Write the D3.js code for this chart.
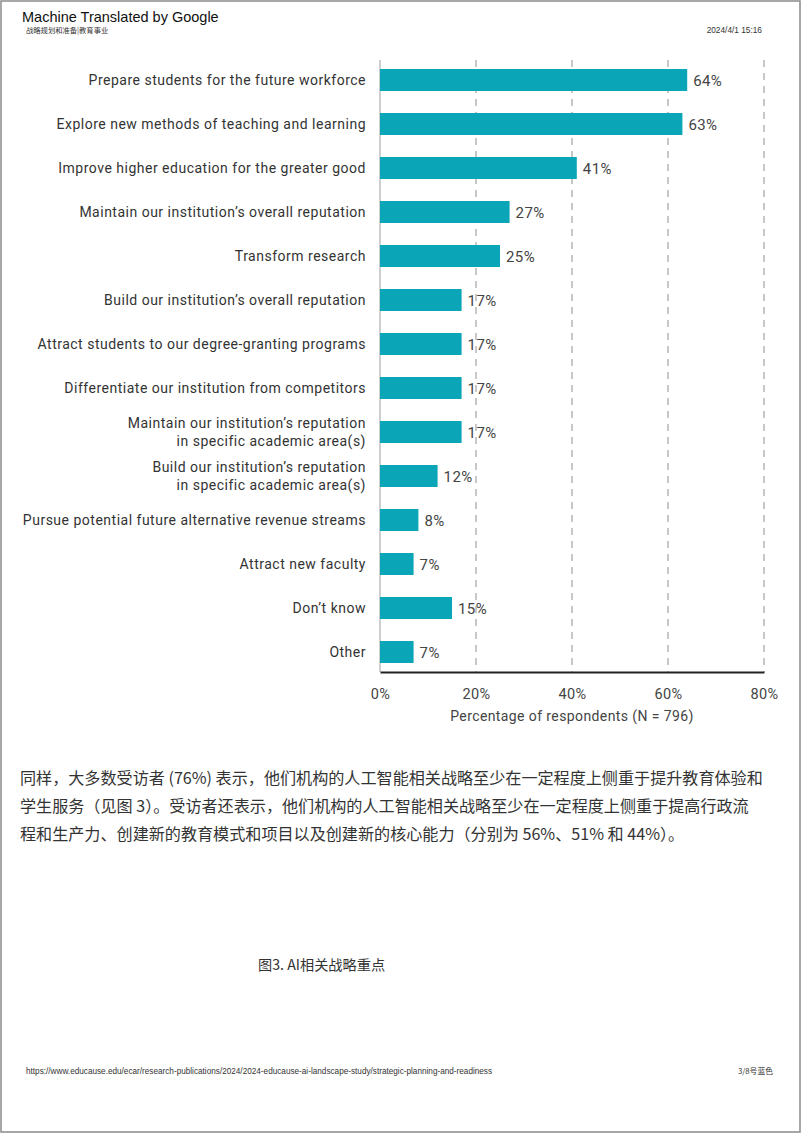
<!DOCTYPE html>
<html><head><meta charset="utf-8">
<script src="https://cdn.jsdelivr.net/npm/d3@7"></script>
<style>
html,body{margin:0;padding:0;background:#fff;}
</style></head>
<body>
<svg id="page" width="802" height="1134"></svg>
<script>
const categories = [
  ["Prepare students for the future workforce"],
  ["Explore new methods of teaching and learning"],
  ["Improve higher education for the greater good"],
  ["Maintain our institution’s overall reputation"],
  ["Transform research"],
  ["Build our institution’s overall reputation"],
  ["Attract students to our degree-granting programs"],
  ["Differentiate our institution from competitors"],
  ["Maintain our institution’s reputation", "in specific academic area(s)"],
  ["Build our institution’s reputation", "in specific academic area(s)"],
  ["Pursue potential future alternative revenue streams"],
  ["Attract new faculty"],
  ["Don’t know"],
  ["Other"]
];
const values = [64, 63, 41, 27, 25, 17, 17, 17, 17, 12, 8, 7, 15, 7];
const tickValues = [0, 20, 40, 60, 80];
const axisTitle = "Percentage of respondents (N = 796)";
const paragraph = [
  "同样，大多数受访者 (76%) 表示，他们机构的人工智能相关战略至少在一定程度上侧重于提升教育体验和",
  "学生服务（见图 3）。受访者还表示，他们机构的人工智能相关战略至少在一定程度上侧重于提高行政流",
  "程和生产力、创建新的教育模式和项目以及创建新的核心能力（分别为 56%、51% 和 44%）。"
];

const svg = d3.select("#page");
// page border
svg.append("rect").attr("x",1).attr("y",1).attr("width",799).attr("height",1131)
  .attr("fill","#fff").attr("stroke","#8a8a8a").attr("stroke-width",1.5);

// header
svg.append("text").attr("x",22).attr("y",22).attr("font-family","Liberation Sans, Arial")
  .attr("font-size",14.5).attr("fill","#111").text("Machine Translated by Google");
svg.append("text").attr("x",26).attr("y",33).attr("font-family","Noto Sans CJK SC")
  .attr("font-size",7.3).attr("fill","#333").text("战略规划和准备|教育事业");
svg.append("text").attr("x",762).attr("y",33).attr("text-anchor","end").attr("font-family","Liberation Sans, Arial")
  .attr("font-size",8.3).attr("fill","#333").text("2024/4/1 15:16");

// chart
const x = d3.scaleLinear().domain([0,80]).range([380,764]);
const y = d3.scaleBand().domain(d3.range(categories.length)).range([58,674]).paddingInner(0.5).paddingOuter(0.25);
const font = "Roboto, 'DejaVu Sans', sans-serif";
const g = svg.append("g");

// dashed grid
g.selectAll("line.grid").data(tickValues.filter(d=>d>0)).join("line")
  .attr("x1",d=>x(d)).attr("x2",d=>x(d)).attr("y1",60).attr("y2",672)
  .attr("stroke","#c8c8c8").attr("stroke-width",2).attr("stroke-dasharray","7,6");
// baseline at 0
g.append("line").attr("x1",x(0)).attr("x2",x(0)).attr("y1",60).attr("y2",672)
  .attr("stroke","#cfcfcf").attr("stroke-width",2);

// bars
g.selectAll("rect.bar").data(values).join("rect")
  .attr("x",x(0)).attr("y",(d,i)=>y(i)).attr("width",d=>x(d)-x(0)).attr("height",y.bandwidth())
  .attr("fill","#0aa6b7");
// value labels
g.selectAll("text.val").data(values).join("text")
  .attr("x",d=>x(d)+6).attr("y",(d,i)=>y(i)+y.bandwidth()/2+6)
  .attr("font-family",font).attr("font-size",15).attr("letter-spacing",0.4)
  .attr("fill","#444").text(d=>d+"%");
// category labels
categories.forEach((lines,i)=>{
  const cy = y(i)+y.bandwidth()/2;
  const t = g.append("text").attr("text-anchor","end").attr("font-family",font)
    .attr("font-size",14).attr("letter-spacing",0.5).attr("fill","#333");
  lines.forEach((l,j)=>{
    t.append("tspan").attr("x",366).attr("y",cy+5+(j-(lines.length-1)/2)*18).text(l);
  });
});

// x axis
const xAxis = d3.axisBottom(x).tickValues(tickValues).tickFormat(d=>d+"%").tickSize(0).tickPadding(17);
const ax = g.append("g").attr("transform","translate(0,672)").call(xAxis);
ax.select(".domain").attr("stroke","#222").attr("stroke-width",2);
ax.selectAll("text").attr("font-family",font).attr("font-size",14.5).attr("letter-spacing",0.4).attr("fill","#444");
g.append("text").attr("x",572).attr("y",721).attr("text-anchor","middle")
  .attr("font-family",font).attr("font-size",14).attr("letter-spacing",0.4).attr("fill","#444").text(axisTitle);

// paragraph
svg.selectAll("text.para").data(paragraph).join("text")
  .attr("x",20).attr("y",(d,i)=>784+i*28).attr("font-family","Noto Sans CJK SC")
  .attr("font-size",16.1).attr("fill","#333").text(d=>d);

// caption
svg.append("text").attr("x",258).attr("y",970).attr("font-family","Noto Sans CJK SC")
  .attr("font-size",14.2).attr("fill","#333").text("图3. AI相关战略重点");

// footer
svg.append("text").attr("x",26).attr("y",1074).attr("font-family","Liberation Sans, Arial")
  .attr("font-size",8.2).attr("fill","#333")
  .text("https://www.educause.edu/ecar/research-publications/2024/2024-educause-ai-landscape-study/strategic-planning-and-readiness");
svg.append("text").attr("x",773).attr("y",1074).attr("text-anchor","end").attr("font-family","Noto Sans CJK SC")
  .attr("font-size",7.8).attr("fill","#333").text("3/8号蓝色");
</script>
</body></html>
